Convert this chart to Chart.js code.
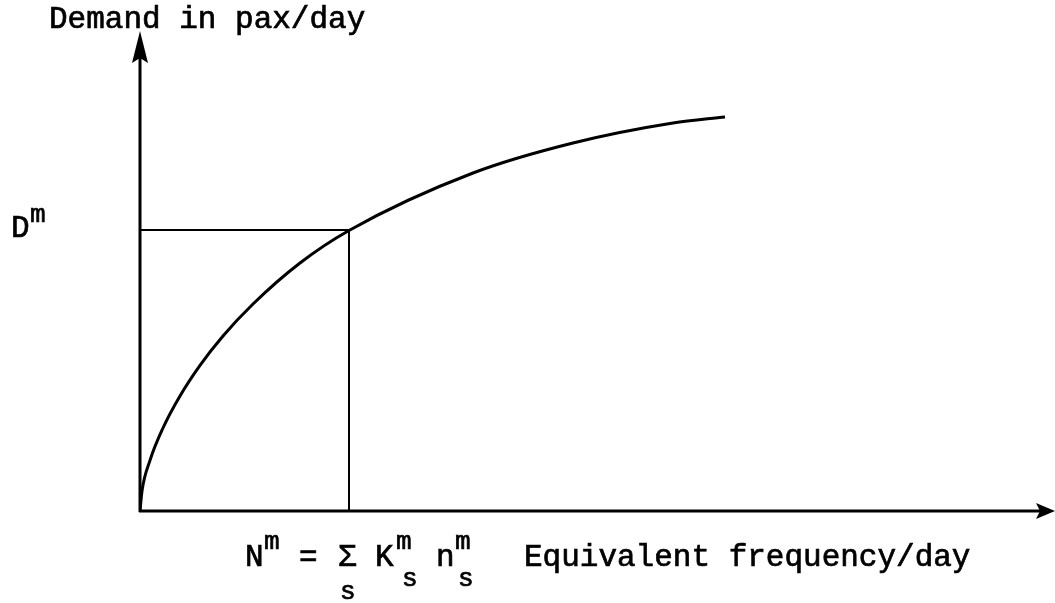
<!DOCTYPE html>
<html>
<head>
<meta charset="utf-8">
<script src="https://cdn.jsdelivr.net/npm/chart.js@4/dist/chart.umd.min.js"></script>
<style>
  html, body { margin: 0; padding: 0; background: #fff; }
  #wrap { width: 1055px; height: 603px; }
</style>
</head>
<body>
<div id="wrap"><canvas id="demandChart" width="1055" height="603"></canvas></div>
<script>
// equivalent frequency (x) and demand (y)
const frequency = [0, 0.2, 1.0, 2.3, 4.0, 6.0, 8.3, 11.3, 16.0, 20.9, 33.3, 43.3, 53.3, 58.5];
const demand    = [0, 2.0, 5.06, 8.3, 11.5, 14.56, 17.5, 20.7, 24.8, 28.05, 33.8, 36.8, 38.8, 39.4];

// operating point N^m, D^m
const pointN = 20.9;
const pointD = 28.1;

const xMax = 91.5;
const yMax = 48.3;

const FONT = "Liberation Mono, Courier New, monospace";

function label(ctx, text, x, y) {
  ctx.fillText(text, x, y);
  ctx.strokeText(text, x, y);
}

const axesPlugin = {
  id: "axesAndLabels",
  afterDraw(chart) {
    const ctx = chart.ctx;
    const xs = chart.scales.x;
    const ys = chart.scales.y;
    const x0 = xs.getPixelForValue(0);
    const y0 = ys.getPixelForValue(0);
    const right = chart.width;

    ctx.save();
    ctx.strokeStyle = "#000";
    ctx.fillStyle = "#000";
    ctx.lineWidth = 3;

    // y axis with arrow
    ctx.beginPath();
    ctx.moveTo(x0, y0 + 1);
    ctx.lineTo(x0, 55);
    ctx.stroke();
    ctx.beginPath();
    ctx.moveTo(x0, 31);
    ctx.lineTo(x0 - 8, 63);
    ctx.lineTo(x0, 58);
    ctx.lineTo(x0 + 8, 63);
    ctx.closePath();
    ctx.fill();

    // x axis with arrow
    ctx.beginPath();
    ctx.moveTo(x0 - 1, y0);
    ctx.lineTo(right - 12, y0);
    ctx.stroke();
    ctx.beginPath();
    ctx.moveTo(right, y0);
    ctx.lineTo(right - 19, y0 - 8);
    ctx.lineTo(right - 15, y0);
    ctx.lineTo(right - 19, y0 + 8);
    ctx.closePath();
    ctx.fill();

    // labels
    ctx.lineWidth = 0.7;
    ctx.font = "31px " + FONT;
    ctx.textBaseline = "alphabetic";
    ctx.textAlign = "left";
    label(ctx, "Demand in pax/day", 49, 28);

    const dY = ys.getPixelForValue(pointD);
    label(ctx, "D", 11, dY + 7);
    ctx.font = "26px " + FONT;
    label(ctx, "m", 30, dY - 8);

    const base = 566;
    ctx.font = "31px " + FONT;
    label(ctx, "N", 245, base);
    label(ctx, "=", 299, base);
    label(ctx, "\u03A3", 338, base);
    label(ctx, "K", 375, base);
    label(ctx, "n", 436, base);
    label(ctx, "Equivalent frequency/day", 524, base);
    ctx.font = "26px " + FONT;
    label(ctx, "m", 264, base - 17);
    label(ctx, "m", 396, base - 17);
    label(ctx, "m", 455, base - 17);
    label(ctx, "s", 402, base + 20);
    label(ctx, "s", 458, base + 20);
    label(ctx, "s", 340, base + 33);
    ctx.restore();
  }
};

const ctx = document.getElementById("demandChart").getContext("2d");

new Chart(ctx, {
  type: "line",
  data: {
    datasets: [
      {
        label: "Demand",
        data: frequency.map((f, i) => ({ x: f, y: demand[i] })),
        borderColor: "#000",
        borderWidth: 3,
        pointRadius: 0,
        cubicInterpolationMode: "monotone",
        fill: false
      },
      {
        label: "Operating point",
        data: [
          { x: 0, y: pointD },
          { x: pointN, y: pointD },
          { x: pointN, y: 0 }
        ],
        borderColor: "#000",
        borderWidth: 2,
        pointRadius: 0,
        tension: 0,
        fill: false
      }
    ]
  },
  options: {
    responsive: false,
    animation: false,
    layout: { padding: { left: 140, top: 28, right: 0, bottom: 92 } },
    scales: {
      x: { type: "linear", min: 0, max: xMax, display: false },
      y: { type: "linear", min: 0, max: yMax, display: false }
    },
    plugins: {
      legend: { display: false },
      tooltip: { enabled: false },
      title: { display: false }
    }
  },
  plugins: [axesPlugin]
});
</script>
</body>
</html>
